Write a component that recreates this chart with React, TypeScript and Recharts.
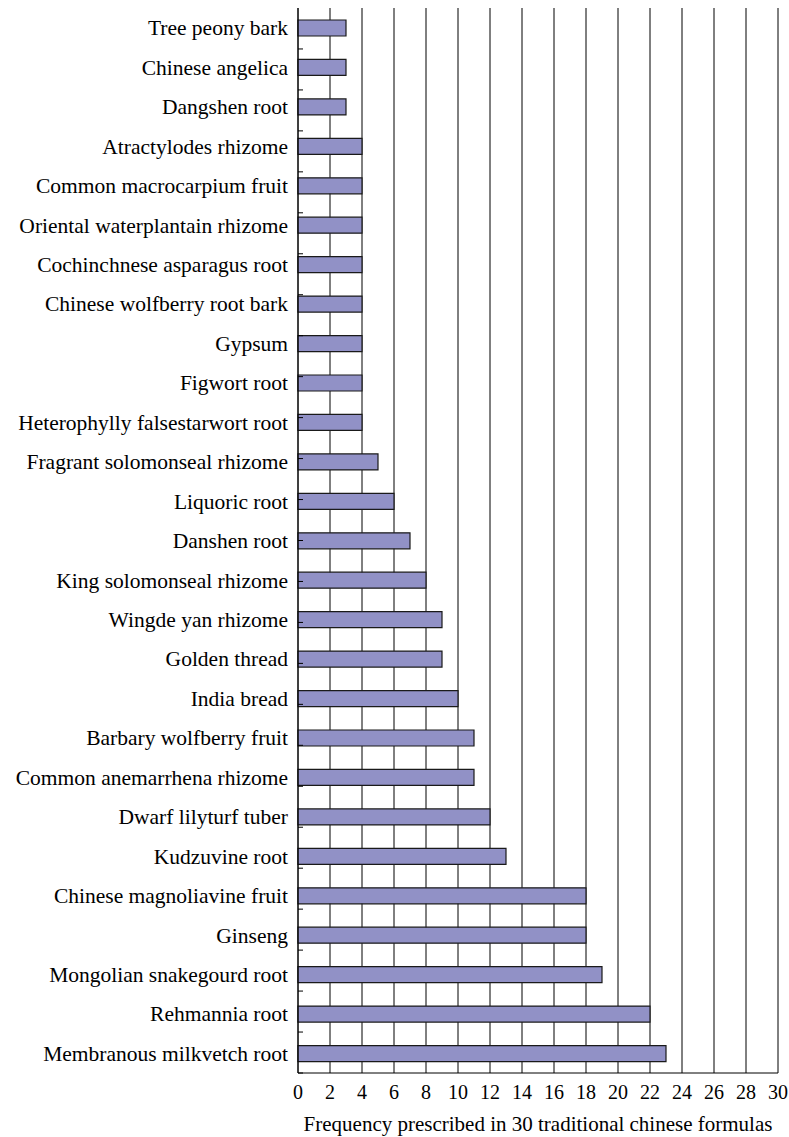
import React from "react";
import {
  BarChart,
  Bar,
  XAxis,
  YAxis,
  CartesianGrid,
} from "recharts";

const herbs = [
  "Tree peony bark",
  "Chinese angelica",
  "Dangshen root",
  "Atractylodes rhizome",
  "Common macrocarpium fruit",
  "Oriental waterplantain rhizome",
  "Cochinchnese asparagus root",
  "Chinese wolfberry root bark",
  "Gypsum",
  "Figwort root",
  "Heterophylly falsestarwort root",
  "Fragrant solomonseal rhizome",
  "Liquoric root",
  "Danshen root",
  "King solomonseal rhizome",
  "Wingde yan rhizome",
  "Golden thread",
  "India bread",
  "Barbary wolfberry fruit",
  "Common anemarrhena rhizome",
  "Dwarf lilyturf tuber",
  "Kudzuvine root",
  "Chinese magnoliavine fruit",
  "Ginseng",
  "Mongolian snakegourd root",
  "Rehmannia root",
  "Membranous milkvetch root",
];

const frequencies = [
  3, 3, 3, 4, 4, 4, 4, 4, 4, 4, 4, 5, 6, 7, 8, 9, 9, 10, 11, 11, 12, 13, 18,
  18, 19, 22, 23,
];

const xTicks = [0, 2, 4, 6, 8, 10, 12, 14, 16, 18, 20, 22, 24, 26, 28, 30];
const boundaryTicks = [
  1, 2, 3, 4, 5, 6, 7, 8, 9, 10, 11, 12, 13, 14, 15, 16, 17, 18, 19, 20, 21,
  22, 23, 24, 25, 26,
];

const xLabel = "Frequency prescribed in 30 traditional chinese formulas";

const data = herbs.map((name, i) => ({ name, value: frequencies[i] }));

const FONT = "Liberation Serif, DejaVu Serif, serif";

export default function App() {
  return (
    <div
      style={{
        position: "absolute",
        left: 0,
        top: 0,
        background: "#fff",
        fontFamily: FONT,
      }}
    >
      <BarChart
        width={789}
        height={1137}
        data={data}
        layout="vertical"
        margin={{ top: 8, right: 11, bottom: 0, left: 0 }}
        barCategoryGap={0}
        style={{ fontFamily: FONT }}
      >
        <CartesianGrid
          horizontal={false}
          vertical={true}
          stroke="#000"
          strokeWidth={1}
          xAxisId="main"
          yAxisId="cat"
        />
        <XAxis
          xAxisId="main"
          type="number"
          domain={[0, 30]}
          ticks={xTicks}
          interval={0}
          tickLine={false}
          tickSize={6}
          tickMargin={6}
          axisLine={{ stroke: "#000", strokeWidth: 1 }}
          height={64}
          tick={{ fill: "#000", fontSize: 20, fontFamily: FONT }}
          label={{
            value: xLabel,
            position: "insideBottom",
            offset: 6,
            fill: "#000",
            fontSize: 21,
            fontFamily: FONT,
          }}
        />
        <XAxis
          xAxisId="top"
          orientation="top"
          type="number"
          domain={[0, 30]}
          ticks={xTicks}
          height={0}
          tick={false}
          tickLine={false}
          axisLine={{ stroke: "#000", strokeWidth: 1 }}
        />
        <YAxis
          yAxisId="cat"
          type="category"
          dataKey="name"
          width={298}
          interval={0}
          tickLine={false}
          tickSize={6}
          tickMargin={4}
          axisLine={{ stroke: "#000", strokeWidth: 1 }}
          tick={{ fill: "#000", fontSize: 21.5, fontFamily: FONT }}
        />
        <YAxis
          yAxisId="bounds"
          type="number"
          domain={[0, 27]}
          ticks={boundaryTicks}
          interval={0}
          mirror={true}
          tickSize={5}
          axisLine={false}
          tickLine={{ stroke: "#000", strokeWidth: 1 }}
          tick={() => <g />}
        />
        <Bar
          dataKey="value"
          xAxisId="main"
          yAxisId="cat"
          barSize={16}
          fill="#9191c6"
          stroke="#1a1a1a"
          strokeWidth={1.2}
          isAnimationActive={false}
        />
      </BarChart>
    </div>
  );
}
